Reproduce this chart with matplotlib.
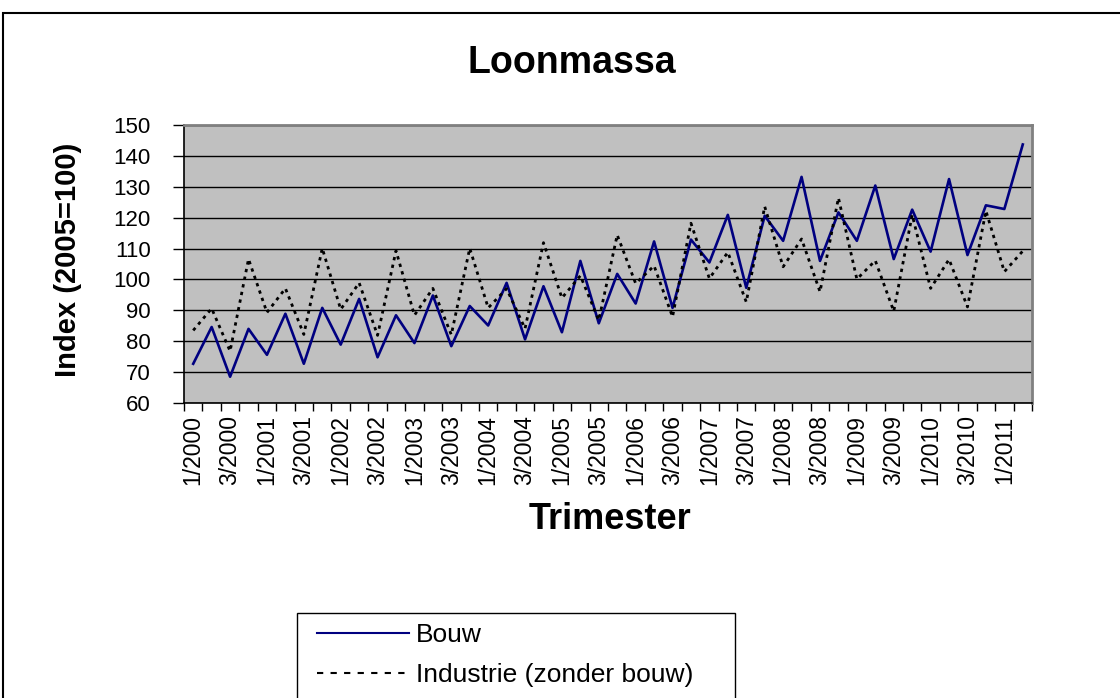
import matplotlib
matplotlib.use("Agg")
import matplotlib.pyplot as plt
from matplotlib.lines import Line2D
from matplotlib.patches import Rectangle

plt.rcParams['font.family'] = ['Liberation Sans', 'DejaVu Sans']

# Quarters 1/2000 .. 2/2011
quarters = [f"{q}/{y}" for y in range(2000, 2012) for q in range(1, 5)][:46]

bouw = [72.7, 84.6, 68.5, 84.0, 75.6, 88.9, 72.7, 90.8, 78.9, 93.7, 74.8, 88.4,
        79.4, 94.8, 78.4, 91.4, 85.1, 98.9, 80.6, 97.8, 82.9, 106.0, 85.8, 101.8,
        92.2, 112.3, 90.8, 112.9, 105.5, 120.9, 97.3, 120.6, 112.5, 133.2, 106.0,
        121.7, 112.5, 130.4, 106.6, 122.6, 109.0, 132.5, 107.9, 124.0, 122.8, 143.7]

industrie = [83.5, 90.6, 76.8, 106.6, 89.3, 97.1, 82.2, 110.1, 90.3, 98.9, 81.9,
             109.3, 88.4, 97.1, 82.1, 110.1, 90.8, 97.0, 84.1, 111.9, 94.0, 101.2,
             86.8, 114.4, 98.7, 104.4, 87.9, 118.2, 100.3, 108.8, 92.7, 123.6, 104.1,
             113.1, 96.0, 126.4, 100.1, 106.1, 89.7, 120.9, 97.1, 106.5, 91.1, 122.2,
             102.5, 109.2]

W, H = 1120, 698
fig = plt.figure(figsize=(W / 100, H / 100), dpi=100)

# plot area in pixel coords: x 184..1032, y 125..403
ax = fig.add_axes([184 / W, 1 - 403 / H, (1032 - 184) / W, (403 - 125) / H])
ax.set_facecolor('#C0C0C0')

x = list(range(len(quarters)))
ax.plot(x, bouw, color='#000080', lw=1.9, label='Bouw', zorder=3)
ax.plot(x, industrie, color='black', lw=2.0, ls=(0, (1.2, 1.6)),
        label='Industrie (zonder bouw)', zorder=3)

ax.set_xlim(-0.5, len(quarters) - 0.5)
ax.set_ylim(60, 150)
ax.set_yticks(range(60, 151, 10))
ax.yaxis.grid(True, color='black', lw=1.0)
ax.set_axisbelow(True)

# category axis: ticks on boundaries, labels on every other category
ax.set_xticks([i - 0.5 for i in range(len(quarters) + 1)])
ax.set_xticklabels([])
ax.set_xticks(x[::2], minor=True)
ax.set_xticklabels(quarters[::2], minor=True, rotation=90, fontsize=16.5)
ax.tick_params(axis='x', which='minor', length=0, pad=9)
ax.tick_params(axis='x', which='major', length=6, width=1, direction='out')
ax.tick_params(axis='y', length=8, width=1, direction='out', labelsize=16, pad=16)

for s in ['left', 'bottom']:
    ax.spines[s].set_color('black')
    ax.spines[s].set_linewidth(1.2)
for s in ['top', 'right']:
    ax.spines[s].set_color('#808080')
    ax.spines[s].set_linewidth(2)

ax.set_xlabel('Trimester', fontsize=26, fontweight='bold')
ax.xaxis.set_label_coords(0.502, -0.355)
ax.set_ylabel('Index (2005=100)', fontsize=21, fontweight='bold')
ax.yaxis.set_label_coords(-0.12, 0.516)

fig.text(572 / W, 1 - 63 / H, 'Loonmassa', fontsize=27, fontweight='bold',
         ha='center', va='center')

# outer chart frame (runs off the right/bottom of the image)
fig.patches.append(Rectangle((3 / W, -0.05), 1.1, 1 - 13 / H + 0.05,
                             transform=fig.transFigure, fill=False,
                             edgecolor='black', lw=1.5))
# legend frame (cut off at the bottom)
fig.patches.append(Rectangle((297 / W, -0.05), (735 - 297) / W, 1 - 613 / H + 0.05,
                             transform=fig.transFigure, fill=False,
                             edgecolor='black', lw=1.0))

handles = [Line2D([], [], color='#000080', lw=1.5),
           Line2D([], [], color='black', lw=1.5, ls=(0, (3, 3.5)))]
fig.legend(handles, ['Bouw', 'Industrie (zonder bouw)'], loc='upper left',
           bbox_to_anchor=(309 / W, 1 - 615 / H), frameon=False, fontsize=19,
           handlelength=3.5, handletextpad=0.25, labelspacing=0.6,
           borderpad=0.3, borderaxespad=0)

fig.savefig('out.png', dpi=100)
